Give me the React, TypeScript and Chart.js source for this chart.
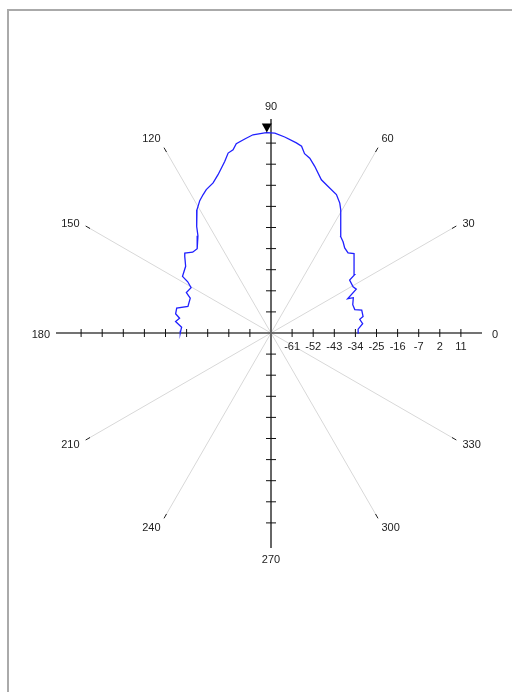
import React, { useEffect, useRef } from "react";
import { Chart, registerables } from "chart.js";

Chart.register(...registerables);

// Antenna pattern: angle (deg, counter-clockwise from east) and gain (dB)
const ANGLES_DEG = [
  0, 2.5, 5.8, 8.8, 10.2, 14.1, 15.6, 19.1, 23.2, 24.1, 27.2, 29.4, 33.9, 34.9,
  43.7, 46.1, 49.1, 51.7, 54.1, 60.5, 62.1, 64.7, 68.8, 71.8, 75.3, 77.5, 79.4,
  80.7, 82.4, 86.0, 88.9, 91.2, 91.8, 95.2, 97.7, 100.4, 101.7, 103.4, 105.1,
  108.5, 111.1, 114.3, 116.2, 118.3, 121.0, 124.9, 126.9, 131.2, 134.1, 137.2,
  138.4, 142.0, 147.4, 148.4, 150.4, 154.5, 156.7, 162.2, 165.2, 168.6, 170.8,
  173.1, 176.3, 178.5, 180,
];
const GAINS_DB = [
  -32.5, -32.8, -30.7, -31.7, -30.1, -30.1, -32.9, -33.1, -31.8, -34.2, -29.1,
  -29.8, -29.6, -26.5, -21.0, -22.6, -22.0, -20.4, -19.3, -9.6, -7.3, -4.7,
  -2.9, -1.2, 3.5, 6.4, 7.8, 10.7, 11.8, 13.8, 15.3, 15.5, 15.4, 14.9, 13.5,
  12.1, 9.8, 8.9, 5.8, 1.2, -1.4, -2.9, -4.3, -5.9, -8.7, -14.6, -18.1, -22.2,
  -22.0, -19.9, -20.8, -23.8, -25.2, -28.3, -30.8, -30.0, -32.5, -32.8, -28.4,
  -28.5, -30.5, -29.0, -31.8, -31.5, -31.3,
];
const RADIAL_TICKS = [-61, -52, -43, -34, -25, -16, -7, 2, 11];
const ANGLE_LABELS = [0, 30, 60, 90, 120, 150, 180, 210, 240, 270, 300, 330];
const DB_MIN = -70;
const DB_MAX = 20;

const CANVAS = 500;
const RADIUS_PX = 211;
const HALF = ((DB_MAX - DB_MIN) * (CANVAS / 2)) / RADIUS_PX;
const FONT = '11px "Liberation Sans", Arial, sans-serif';

export default function App() {
  const ref = useRef<HTMLCanvasElement>(null);

  useEffect(() => {
    if (!ref.current) return;
    const pts = ANGLES_DEG.map((a, i) => {
      const r = GAINS_DB[i] - DB_MIN;
      const t = (a * Math.PI) / 180;
      return { x: r * Math.cos(t), y: r * Math.sin(t) };
    });

    const polarFrame = {
      id: "polarFrame",
      beforeDatasetsDraw(chart: any) {
        const { ctx } = chart;
        const xs = chart.scales.x;
        const ys = chart.scales.y;
        const cx = xs.getPixelForValue(0);
        const cy = ys.getPixelForValue(0);
        const ppu = xs.getPixelForValue(1) - cx;
        const R = (DB_MAX - DB_MIN) * ppu;
        ctx.save();
        // spokes
        ANGLE_LABELS.forEach((a) => {
          if (a % 90 === 0) return;
          const t = (a * Math.PI) / 180;
          const dx = Math.cos(t);
          const dy = -Math.sin(t);
          ctx.strokeStyle = "#d8d8d8";
          ctx.lineWidth = 1;
          ctx.beginPath();
          ctx.moveTo(cx, cy);
          ctx.lineTo(cx + dx * R, cy + dy * R);
          ctx.stroke();
          ctx.strokeStyle = "#222";
          ctx.beginPath();
          ctx.moveTo(cx + dx * (R - 2), cy + dy * (R - 2));
          ctx.lineTo(cx + dx * (R + 3), cy + dy * (R + 3));
          ctx.stroke();
        });
        // axes
        ctx.strokeStyle = "#444";
        ctx.lineWidth = 1.3;
        ctx.beginPath();
        ctx.moveTo(cx - R - 4, cy);
        ctx.lineTo(cx + R, cy);
        ctx.stroke();
        ctx.strokeStyle = "#666";
        ctx.lineWidth = 2;
        ctx.beginPath();
        ctx.moveTo(cx, cy - R - 3);
        ctx.lineTo(cx, cy + R + 4);
        ctx.stroke();
        // ticks
        ctx.strokeStyle = "#111";
        ctx.lineWidth = 1;
        RADIAL_TICKS.forEach((v) => {
          const d = (v - DB_MIN) * ppu;
          ctx.beginPath();
          ctx.moveTo(cx + d, cy - 4);
          ctx.lineTo(cx + d, cy + 4);
          ctx.moveTo(cx - d, cy - 4);
          ctx.lineTo(cx - d, cy + 4);
          ctx.moveTo(cx - 5, cy + d);
          ctx.lineTo(cx + 5, cy + d);
          ctx.moveTo(cx - 5, cy - d);
          ctx.lineTo(cx + 5, cy - d);
          ctx.stroke();
        });
        // radial tick labels
        ctx.fillStyle = "#222";
        ctx.font = FONT;
        ctx.textAlign = "center";
        ctx.textBaseline = "middle";
        RADIAL_TICKS.forEach((v) => {
          const d = (v - DB_MIN) * ppu;
          ctx.fillText(String(v), cx + d, cy + 14);
        });
        // angle labels
        const LR = R + 10;
        ANGLE_LABELS.forEach((a) => {
          const t = (a * Math.PI) / 180;
          const c = Math.cos(t);
          const s = Math.sin(t);
          const px = cx + c * LR;
          const py = cy - s * LR;
          ctx.textAlign = c > 0.1 ? "left" : c < -0.1 ? "right" : "center";
          ctx.textBaseline = "middle";
          let off = 1.5;
          if (s > 0.99) off = -5;
          else if (s < -0.99) off = 6;
          else if (s > 0.7) off = -3;
          else if (s < -0.7) off = 3.5;
          ctx.fillText(String(a), px, py + off);
        });
        ctx.restore();
      },
      afterDatasetsDraw(chart: any) {
        const { ctx } = chart;
        const xs = chart.scales.x;
        const ys = chart.scales.y;
        let best = 0;
        GAINS_DB.forEach((g, i) => {
          if (g > GAINS_DB[best]) best = i;
        });
        const px = xs.getPixelForValue(pts[best].x);
        const py = ys.getPixelForValue(pts[best].y);
        ctx.save();
        ctx.fillStyle = "#000";
        ctx.beginPath();
        ctx.moveTo(px, py);
        ctx.lineTo(px - 5, py - 9);
        ctx.lineTo(px + 5, py - 9);
        ctx.closePath();
        ctx.fill();
        ctx.restore();
      },
    };

    const chart = new Chart(ref.current, {
      type: "scatter",
      data: {
        datasets: [
          {
            data: pts,
            showLine: true,
            borderColor: "#2020ff",
            borderWidth: 1.3,
            pointRadius: 0,
            fill: false,
            tension: 0,
          },
        ],
      },
      options: {
        animation: false,
        responsive: true,
        maintainAspectRatio: false,
        layout: { padding: 0 },
        scales: {
          x: { type: "linear", min: -HALF, max: HALF, display: false },
          y: { type: "linear", min: -HALF, max: HALF, display: false },
        },
        plugins: { legend: { display: false }, tooltip: { enabled: false } },
      },
      plugins: [polarFrame],
    });
    return () => chart.destroy();
  }, []);

  return (
    <div style={{ position: "relative", width: 496, height: 676, background: "#fff" }}>
      <div
        style={{
          position: "fixed",
          left: 7,
          top: 9,
          width: "100vw",
          height: "100vh",
          borderLeft: "2px solid #aaa",
          borderTop: "2px solid #aaa",
          pointerEvents: "none",
        }}
      />
      <div
        style={{
          position: "absolute",
          left: 271.3 - 8 - CANVAS / 2,
          top: 333.3 - 8 - CANVAS / 2,
          width: CANVAS,
          height: CANVAS,
        }}
      >
        <canvas ref={ref} />
      </div>
    </div>
  );
}
